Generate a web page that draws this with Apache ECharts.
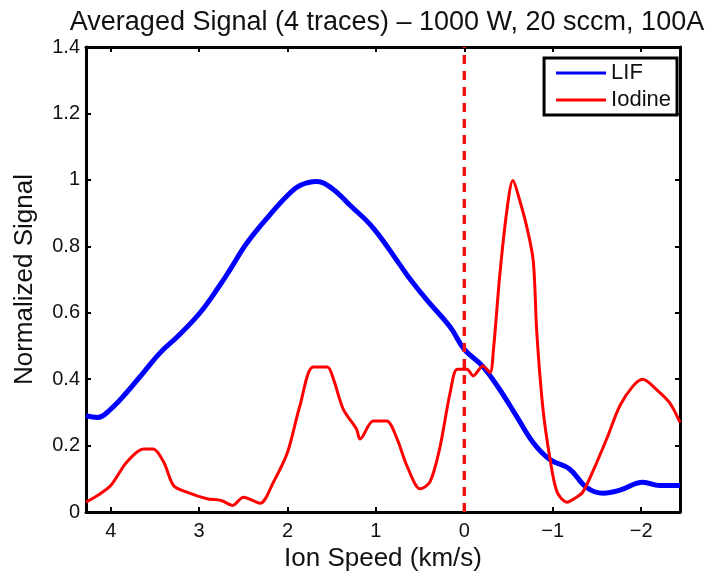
<!DOCTYPE html>
<html>
<head>
<meta charset="utf-8">
<script src="https://cdn.jsdelivr.net/npm/echarts@6/dist/echarts.min.js"></script>
<style>
  html, body { margin: 0; padding: 0; background: #fff; }
  #chart { width: 710px; height: 577px; }
</style>
</head>
<body>
<div id="chart"></div>
<script>
// ion speed (km/s) and normalized signal
const lifX = [4.28, 4.15, 4.0, 3.82, 3.63, 3.44, 3.25, 2.99, 2.76, 2.65, 2.46, 2.2, 2.0, 1.86, 1.67, 1.5, 1.29, 1.03, 0.73, 0.61, 0.42, 0.16, 0.0, -0.21, -0.4, -0.59, -0.78, -0.97, -1.19, -1.38, -1.57, -1.76, -2.02, -2.21, -2.44]
const lifY = [0.29, 0.285, 0.31, 0.36, 0.42, 0.48, 0.527, 0.6, 0.685, 0.73, 0.81, 0.895, 0.953, 0.983, 0.995, 0.975, 0.923, 0.855, 0.745, 0.7, 0.637, 0.557, 0.49, 0.438, 0.369, 0.289, 0.209, 0.158, 0.13, 0.075, 0.057, 0.066, 0.09, 0.08, 0.08]

const iodX = [4.28, 4.15, 4.0, 3.82, 3.63, 3.52, 3.4, 3.29, 3.14, 2.91, 2.75, 2.62, 2.5, 2.31, 2.16, 2.0, 1.86, 1.71, 1.55, 1.48, 1.37, 1.22, 1.18, 1.03, 0.88, 0.76, 0.65, 0.5, 0.39, 0.28, 0.16, 0.08, -0.03, -0.1, -0.21, -0.29, -0.33, -0.4, -0.48, -0.55, -0.63, -0.71, -0.78, -0.82, -0.89, -0.97, -1.05, -1.16, -1.27, -1.34, -1.45, -1.61, -1.76, -1.91, -2.02, -2.17, -2.32, -2.44]
const iodY = [0.03, 0.05, 0.08, 0.15, 0.19, 0.19, 0.15, 0.08, 0.06, 0.04, 0.035, 0.02, 0.045, 0.027, 0.09, 0.18, 0.32, 0.437, 0.437, 0.4, 0.31, 0.25, 0.22, 0.274, 0.274, 0.22, 0.14, 0.07, 0.09, 0.19, 0.36, 0.43, 0.43, 0.41, 0.44, 0.42, 0.49, 0.71, 0.905, 0.998, 0.935, 0.855, 0.756, 0.54, 0.31, 0.16, 0.06, 0.03, 0.045, 0.06, 0.12, 0.22, 0.32, 0.38, 0.4, 0.37, 0.33, 0.27]

const zeroX = [0, 0]
const zeroY = [0, 1.4]

const pairs = (xs, ys) => xs.map((x, i) => [x, ys[i]])
const FONT = 'Liberation Sans'
const minus = (v) => (Number.isInteger(v) ? String(v).replace('-', '\u2212') : '')

const myChart = echarts.init(document.getElementById('chart'))

const frameAxis = {
  axisLine: { onZero: false, lineStyle: { color: '#000', width: 3 } },
  axisTick: { inside: true, length: 5, lineStyle: { color: '#000', width: 2 } },
  splitLine: { show: false },
}

const option = {
  backgroundColor: '#fff',
  animation: false,
  title: {
    text: 'Averaged Signal (4 traces) \u2013 1000 W, 20 sccm, 100A',
    left: 382,
    textAlign: 'center',
    top: 4,
    textStyle: { fontFamily: FONT, fontSize: 27, fontWeight: 'normal', color: '#111' },
  },
  grid: { left: 86, right: 30, top: 47, bottom: 60 },
  legend: {
    data: ['LIF', 'Iodine'],
    orient: 'vertical',
    right: 33,
    top: 58,
    itemWidth: 50,
    itemHeight: 3,
    itemGap: 5,
    padding: [4, 6, 4, 12],
    borderColor: '#000',
    borderWidth: 3,
    borderRadius: 0,
    backgroundColor: '#fff',
    icon: 'rect',
    textStyle: { fontFamily: FONT, fontSize: 22, color: '#111' },
  },
  xAxis: [
    {
      ...frameAxis,
      type: 'value',
      inverse: true,
      min: -2.44,
      max: 4.28,
      name: 'Ion Speed (km/s)',
      nameLocation: 'middle',
      nameGap: 33,
      nameTextStyle: { fontFamily: FONT, fontSize: 26, color: '#111' },
      axisLabel: { fontFamily: FONT, fontSize: 20, color: '#111', margin: 9, formatter: minus, showMinLabel: false, showMaxLabel: false },
    },
    {
      ...frameAxis,
      type: 'value',
      inverse: true,
      position: 'top',
      min: -2.44,
      max: 4.28,
      axisLabel: { show: false },
    },
  ],
  yAxis: [
    {
      ...frameAxis,
      type: 'value',
      min: 0,
      max: 1.4,
      interval: 0.2,
      name: 'Normalized Signal',
      nameLocation: 'middle',
      nameGap: 48,
      nameTextStyle: { fontFamily: FONT, fontSize: 26, color: '#111' },
      axisLabel: { fontFamily: FONT, fontSize: 20, color: '#111', margin: 6, formatter: (v) => String(+v.toFixed(1)) },
    },
    {
      ...frameAxis,
      type: 'value',
      position: 'right',
      min: 0,
      max: 1.4,
      interval: 0.2,
      axisLabel: { show: false },
    },
  ],
  series: [
    {
      name: 'LIF',
      type: 'line',
      data: pairs(lifX, lifY),
      smooth: 0.4,
      showSymbol: false,
      color: '#0000ff',
      lineStyle: { width: 5, color: '#0000ff' },
      z: 3,
    },
    {
      name: 'Iodine',
      type: 'line',
      data: pairs(iodX, iodY),
      smooth: 0.3,
      showSymbol: false,
      color: '#ff0000',
      lineStyle: { width: 3, color: '#ff0000' },
      z: 4,
    },
    {
      name: 'zero',
      type: 'line',
      data: pairs(zeroX, zeroY),
      showSymbol: false,
      lineStyle: { width: 3.5, color: '#ee1111', type: [9, 7] },
      z: 5,
    },
  ],
}

myChart.setOption(option)
window.addEventListener('resize', () => {
  myChart.resize()
})
</script>
</body>
</html>
